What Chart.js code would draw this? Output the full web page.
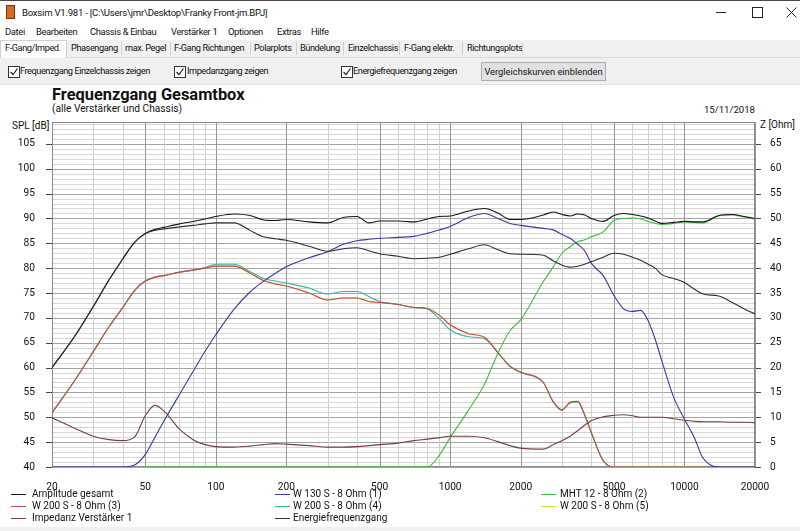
<!DOCTYPE html>
<html lang="de">
<head>
<meta charset="UTF-8">
<title>Boxsim - Frequenzgang Gesamtbox</title>
<script src="https://cdn.jsdelivr.net/npm/chart.js"></script>
<style>
    body {
        margin: 0;
        width: 800px;
        height: 531px;
        overflow: hidden;
        background: #fff;
        font-family: Roboto, "Noto Sans", sans-serif;
        color: #111;
        position: relative;
    }
    .abs { position: absolute; white-space: nowrap; }
    .titel { font-size: 9.6px; letter-spacing: -0.25px; line-height: 14px; }
    .menu { font-size: 9.4px; letter-spacing: -0.35px; line-height: 14px; top: 25px; }
    .tab { font-size: 9.2px; letter-spacing: -0.42px; line-height: 14px; top: 41px; }
    .cbl { font-size: 9.2px; letter-spacing: -0.45px; line-height: 14px; top: 64px; }
    #topline { left: 0; top: 0; width: 800px; height: 1px; background: #4a4a4a; }
    #icon { left: 6px; top: 5px; width: 9px; height: 14px; background: #d86a1c; border: 1px solid #6a3a10; box-sizing: border-box; }
    #tabs { left: 0; top: 40px; width: 800px; height: 17px; background: #f0f0f0; border-bottom: 1px solid #dadada; }
    .sep { top: 42px; width: 1px; height: 13px; background: #d0d0d0; }
    #activetab { left: 0; top: 40px; width: 67px; height: 18px; background: #fff; border: 1px solid #d0d0d0; border-bottom: none; box-sizing: border-box; }
    #panel { left: 0; top: 58px; width: 800px; height: 26px; background: #f0f0f0; border-bottom: 1px solid #e2e2e2; }
    .cb { top: 66px; width: 10px; height: 10px; border: 1px solid #333; background: #fff; line-height: 0; }
    #btn { left: 481px; top: 62px; width: 125px; height: 19px; background: #e1e1e1; border: 1px solid #adadad; box-sizing: border-box;
           font-size: 9.3px; line-height: 17px; text-align: center; }
    #bottomstrip { left: 0; top: 527px; width: 800px; height: 4px; background: #f0f0f0; }
    #chartbox { left: 0; top: 100px; width: 800px; height: 395px; }
    .leg { font-size: 10px; line-height: 12px; }
    .sw { width: 15px; height: 0; border-top: 1.5px solid; }
</style>
</head>
<body>
    <!-- Fensterrahmen -->
    <div class="abs" id="topline"></div>
    <div class="abs" id="icon"></div>
    <div class="abs titel" style="left:22px; top:6px;">Boxsim V1.981 - [C:\Users\jmr\Desktop\Franky Front-jm.BPJ]</div>
    <div class="abs" style="left:716px; top:12px; width:10px; height:1px; background:#222;"></div>
    <div class="abs" style="left:752px; top:7px; width:9px; height:9px; border:1px solid #222;"></div>
    <svg class="abs" style="left:786px; top:7px;" width="11" height="11"><path d="M0.5 0.5 L10.5 10.5 M10.5 0.5 L0.5 10.5" stroke="#222" stroke-width="1"/></svg>

    <!-- Menü -->
    <div class="abs menu" style="left:5px;">Datei</div>
    <div class="abs menu" style="left:36px;">Bearbeiten</div>
    <div class="abs menu" style="left:90px;">Chassis &amp; Einbau</div>
    <div class="abs menu" style="left:171px;">Verstärker 1</div>
    <div class="abs menu" style="left:228px;">Optionen</div>
    <div class="abs menu" style="left:277px;">Extras</div>
    <div class="abs menu" style="left:311px;">Hilfe</div>

    <!-- Reiter -->
    <div class="abs" id="tabs"></div>
    <div class="abs" id="activetab"></div>
    <div class="abs tab" style="left:5px;">F-Gang/Imped.</div>
    <div class="abs tab" style="left:71px;">Phasengang</div>
    <div class="abs sep" style="left:121px;"></div>
    <div class="abs tab" style="left:125px;">max. Pegel</div>
    <div class="abs sep" style="left:170px;"></div>
    <div class="abs tab" style="left:174px;">F-Gang Richtungen</div>
    <div class="abs sep" style="left:250px;"></div>
    <div class="abs tab" style="left:254px;">Polarplots</div>
    <div class="abs sep" style="left:296px;"></div>
    <div class="abs tab" style="left:300px;">Bündelung</div>
    <div class="abs sep" style="left:343px;"></div>
    <div class="abs tab" style="left:348px;">Einzelchassis</div>
    <div class="abs sep" style="left:399px;"></div>
    <div class="abs tab" style="left:404px;">F-Gang elektr.</div>
    <div class="abs sep" style="left:462px;"></div>
    <div class="abs tab" style="left:467px;">Richtungsplots</div>
    <div class="abs sep" style="left:522px;"></div>

    <!-- Optionen -->
    <div class="abs" id="panel"></div>
    <div class="abs cb" style="left:8px;"><svg width="10" height="10"><path d="M1.5 5 L4 7.5 L8.5 1.5" fill="none" stroke="#222" stroke-width="1.2"/></svg></div>
    <div class="abs cbl" style="left:20px;">Frequenzgang Einzelchassis zeigen</div>
    <div class="abs cb" style="left:174px;"><svg width="10" height="10"><path d="M1.5 5 L4 7.5 L8.5 1.5" fill="none" stroke="#222" stroke-width="1.2"/></svg></div>
    <div class="abs cbl" style="left:187px;">Impedanzgang zeigen</div>
    <div class="abs cb" style="left:341px;"><svg width="10" height="10"><path d="M1.5 5 L4 7.5 L8.5 1.5" fill="none" stroke="#222" stroke-width="1.2"/></svg></div>
    <div class="abs cbl" style="left:353px;">Energiefrequenzgang zeigen</div>
    <div class="abs" id="btn">Vergleichskurven einblenden</div>

    <!-- Diagrammtexte -->
    <div class="abs" style="left:52px; top:85px; font-size:16.4px; font-weight:bold;">Frequenzgang Gesamtbox</div>
    <div class="abs" style="left:52px; top:103px; font-size:10.2px;">(alle Verstärker und Chassis)</div>
    <div class="abs" style="right:45px; top:104px; font-size:9.6px;">15/11/2018</div>
    <div class="abs" style="left:12px; top:120px; font-size:10px;">SPL [dB]</div>
    <div class="abs" style="left:760px; top:119px; font-size:10px;">Z [Ohm]</div>

    <div class="abs" id="chartbox"><canvas id="fgChart" width="800" height="395"></canvas></div>

    <!-- Legende -->
    <div class="abs sw" style="left:11px; top:494px; border-color:#1a1a1a;"></div>
    <div class="abs leg" style="left:32px; top:488px;">Amplitude gesamt</div>
    <div class="abs sw" style="left:11px; top:506px; border-color:#c84848;"></div>
    <div class="abs leg" style="left:32px; top:500px;">W 200 S - 8 Ohm (3)</div>
    <div class="abs sw" style="left:11px; top:518px; border-color:#7a3e3e;"></div>
    <div class="abs leg" style="left:32px; top:512px;">Impedanz Verstärker 1</div>
    <div class="abs sw" style="left:275px; top:494px; border-color:#3838a8;"></div>
    <div class="abs leg" style="left:293px; top:488px;">W 130 S - 8 Ohm (1)</div>
    <div class="abs sw" style="left:275px; top:506px; border-color:#30b8a8;"></div>
    <div class="abs leg" style="left:293px; top:500px;">W 200 S - 8 Ohm (4)</div>
    <div class="abs sw" style="left:275px; top:518px; border-color:#333;"></div>
    <div class="abs leg" style="left:293px; top:512px;">Energiefrequenzgang</div>
    <div class="abs sw" style="left:541px; top:494px; border-color:#3cbf3c;"></div>
    <div class="abs leg" style="left:560px; top:488px;">MHT 12 - 8 Ohm (2)</div>
    <div class="abs sw" style="left:541px; top:506px; border-color:#d8d840;"></div>
    <div class="abs leg" style="left:560px; top:500px;">W 200 S - 8 Ohm (5)</div>

    <div class="abs" id="bottomstrip"></div>

    <script>
        // Frequenzen (Hz)
        const freqs = [20, 25, 30, 35, 40, 45, 50, 55, 60, 70, 80, 90, 100, 120, 140, 160, 180, 200,
            250, 300, 350, 400, 450, 500, 600, 700, 800, 900, 1000, 1200, 1400, 1600, 1800, 2000,
            2500, 2750, 3000, 3250, 3500, 3750, 4000, 4500, 5000, 5500, 6000, 6500, 7000, 7500, 8000,
            9000, 10000, 11000, 12000, 14000, 16000, 18000, 20000];

        // SPL in dB
        const ampGesamt = [60, 66.3, 72.3, 77.6, 81.8, 85.2, 87.0, 87.8, 88.2, 88.9, 89.4, 89.9, 90.4, 90.9, 90.6, 89.7, 89.6, 89.8,
            89.3, 89.1, 90.2, 90.4, 89.1, 89.5, 89.5, 89.3, 89.9, 90.4, 90.5, 91.5, 92.0, 91.1, 89.8, 89.8,
            90.7, 91.3, 90.8, 90.5, 90.9, 90.7, 90.0, 89.4, 90.6, 91.0, 90.8, 90.5, 90.1, 89.5, 89.0,
            89.2, 89.4, 89.3, 89.3, 90.6, 90.8, 90.4, 90.0];
        const energie = [60, 66.3, 72.3, 77.6, 81.8, 85.2, 86.9, 87.6, 87.9, 88.3, 88.6, 88.9, 89.1, 89.1, 87.6, 86.3, 85.9, 85.6,
            84.4, 83.4, 83.9, 84.1, 83.5, 82.9, 82.4, 81.9, 82.0, 82.2, 82.8, 83.9, 84.7, 83.7, 82.9, 82.8,
            82.6, 81.5, 80.6, 80.2, 80.4, 80.8, 81.3, 82.2, 83.0, 82.8, 82.2, 81.6, 80.8, 80.0, 78.7,
            77.9, 77.1, 75.8, 74.8, 74.4, 73.1, 71.8, 70.8];
        const w130 = [40, 40, 40, 40, 40, 40.4, 42.5, 46.0, 49.2, 54.6, 59.2, 63.3, 66.6, 71.8, 75.2, 77.4, 79.0, 80.3,
            82.1, 83.3, 84.8, 85.5, 85.8, 86.0, 86.2, 86.4, 87.0, 87.7, 88.4, 90.2, 91.0, 90.0, 89.0, 88.6,
            88.0, 87.7, 86.8, 86.0, 84.8, 83.5, 81.0, 78.5, 74.5, 71.8, 71.3, 71.5, 69.4, 65.7, 61.4,
            54.0, 49.6, 46.0, 41.8, 40, 40, 40, 40];
        const mht12 = [null, null, null, null, null, null, 40, 40, 40, 40, 40, 40, 40, 40, 40, 40, 40, 40,
            40, 40, 40, 40, 40, 40, 40, 40, 40, 42.4, 45.9, 51.5, 56.6, 62.9, 67.4, 69.6,
            77.3, 80.2, 83.0, 84.3, 85.3, 85.7, 86.3, 87.3, 89.6, 90.0, 90.1, 89.9, 89.4, 89.0, 88.8,
            89.0, 89.3, 89.2, 89.1, 90.5, 90.7, 90.3, 89.9];
        const w200a = [50.9, 57.4, 63.2, 68.2, 72.0, 75.5, 77.4, 78.2, 78.5, 79.2, 79.6, 80.0, 80.4, 80.4, 79.0, 77.5, 76.8, 76.4,
            75.0, 73.6, 74.0, 74.0, 73.3, 73.1, 72.7, 72.1, 71.9, 70.5, 68.6, 66.8, 66.1, 63.0, 60.3, 59.1,
            57.0, 53.2, 51.5, 53.0, 53.2, 50.5, 47.0, 41.3, 40, 40, 40, 40, 40, 40, 40,
            40, 40, 40, 40, 40, 40, 40, 40];
        const w200b = [50.9, 57.4, 63.2, 68.2, 72.0, 75.5, 77.4, 78.2, 78.5, 79.2, 79.6, 80.1, 80.8, 80.8, 79.3, 77.9, 77.4, 77.0,
            76.0, 74.8, 75.3, 75.3, 74.3, 73.3, 72.7, 72.1, 71.8, 69.8, 67.6, 66.2, 65.8, 63.0, 60.2, 59.0,
            56.9, 53.1, 51.4, 52.9, 53.1, 50.4, 46.9, 41.2, 40, 40, 40, 40, 40, 40, 40,
            40, 40, 40, 40, 40, 40, 40, 40];
        const w200c = [50.9, 57.4, 63.2, 68.2, 72.0, 75.5, 77.4, 78.2, 78.5, 79.2, 79.6, 80.0, 80.4, 80.4, 79.0, 77.5, 76.8, 76.4,
            75.0, 73.6, 74.0, 74.0, 73.3, 73.1, 72.7, 72.1, 71.9, 70.5, 68.6, 66.8, 66.1, 63.0, 60.3, 59.1,
            57.0, 53.2, 51.5, 53.0, 53.2, 50.5, 47.0, 41.3, 40, 40, 40, 40, 40, 40, 40,
            40, 40, 40, 40, 40, 40, 40, 40];

        // Impedanz in Ohm (rechte Achse)
        const impedanz = [9.9, 7.8, 6.2, 5.5, 5.3, 6.0, 10.3, 12.4, 11.3, 7.6, 5.5, 4.5, 4.1, 4.0, 4.2, 4.5, 4.7, 4.6,
            4.3, 4.0, 4.0, 4.1, 4.3, 4.5, 4.8, 5.3, 5.6, 5.9, 6.2, 6.2, 5.9, 5.1, 4.3, 3.8,
            3.6, 4.5, 5.3, 6.2, 7.3, 8.4, 9.3, 10.1, 10.4, 10.5, 10.3, 10.0, 10.0, 10.0, 10.0,
            9.7, 9.4, 9.2, 9.1, 9.1, 9.0, 9.0, 8.9];

        // Gitter und Beschriftungen
        const xGrid = [20, 30, 40, 50, 60, 70, 80, 90, 100, 200, 300, 400, 500, 600, 700, 800, 900,
            1000, 2000, 3000, 4000, 5000, 6000, 7000, 8000, 9000, 10000, 20000];
        const xLabels = [20, 50, 100, 200, 500, 1000, 2000, 5000, 10000, 20000];
        const splGrid = [];
        for (let v = 40; v <= 109; v++) splGrid.push(v);
        const zGrid = [];
        for (let v = 0; v <= 69; v++) zGrid.push(v);

        function serie(label, werte, farbe, order, achse) {
            return {
                label: label,
                data: freqs.map((f, i) => ({ x: f, y: werte[i] })),
                borderColor: farbe,
                borderWidth: 1.1,
                pointRadius: 0,
                fill: false,
                cubicInterpolationMode: 'monotone',
                yAxisID: achse || 'y',
                order: order
            };
        }

        // Gitter, Teilstriche und Rahmen als 1-px-Rechtecke
        const gitter = {
            id: 'gitter',
            beforeDatasetsDraw(chart) {
                const a = chart.chartArea;
                const ctx = chart.ctx;
                const sx = chart.scales.x, sy = chart.scales.y, sz = chart.scales.z;
                const l = Math.round(a.left), r = Math.round(a.right);
                const t = Math.round(a.top), b = Math.round(a.bottom);
                ctx.save();
                splGrid.forEach(v => {
                    const py = Math.round(sy.getPixelForValue(v));
                    ctx.fillStyle = v % 5 === 0 ? '#a4a4a4' : '#d6d6d6';
                    ctx.fillRect(l, py, r - l, 1);
                    if (v % 5 === 0 && v <= 105) {
                        ctx.fillStyle = '#444';
                        ctx.fillRect(l - 6, py, 6, 1);
                    }
                });
                zGrid.forEach(v => {
                    if (v % 5 !== 0 || v > 65) return;
                    const py = Math.round(sz.getPixelForValue(v));
                    ctx.fillStyle = '#444';
                    ctx.fillRect(r, py, 6, 1);
                });
                xGrid.forEach(v => {
                    const px = Math.round(sx.getPixelForValue(v));
                    ctx.fillStyle = xLabels.includes(v) ? '#969696' : '#d0d0d0';
                    ctx.fillRect(px, t, 1, b - t);
                });
                ctx.fillStyle = '#8a8a8a';
                ctx.fillRect(l, t, r - l, 1);
                ctx.fillRect(l, b - 1, r - l, 1);
                ctx.fillRect(l, t, 1, b - t);
                ctx.fillRect(r - 1, t, 1, b - t);
                ctx.restore();
                // kurzes Auslesen hält die Zeichenfläche im Software-Modus
                ctx.getImageData(0, 0, 1, 1);
            }
        };

        const tickFont = { family: 'Roboto, "Noto Sans", sans-serif', size: 10.2 };

        const canvas = document.getElementById('fgChart');
        canvas.getContext('2d', { willReadFrequently: true });

        new Chart(canvas, {
            type: 'line',
            data: {
                datasets: [
                    serie('Energiefrequenzgang', energie, '#2e2e2e', 1),
                    serie('Amplitude gesamt', ampGesamt, '#141414', 2),
                    serie('Impedanz Verstärker 1', impedanz, '#7a3e3e', 3, 'z'),
                    serie('W 130 S - 8 Ohm (1)', w130, '#3838a8', 4),
                    serie('MHT 12 - 8 Ohm (2)', mht12, '#3cbf3c', 5),
                    serie('W 200 S - 8 Ohm (3)', w200a, '#c84848', 6),
                    serie('W 200 S - 8 Ohm (4)', w200b, '#30b8a8', 7),
                    serie('W 200 S - 8 Ohm (5)', w200c, '#d8d840', 8)
                ]
            },
            options: {
                responsive: false,
                animation: false,
                devicePixelRatio: 1,
                layout: { padding: { top: 22, left: 0, right: 0, bottom: 0 } },
                plugins: { legend: { display: false }, tooltip: { enabled: false } },
                scales: {
                    x: {
                        type: 'logarithmic',
                        min: 20,
                        max: 20000,
                        afterBuildTicks: s => { s.ticks = xGrid.map(v => ({ value: v })); },
                        afterFit: s => { s.height = 28; },
                        border: { display: false },
                        grid: { display: false },
                        ticks: {
                            autoSkip: false,
                            maxRotation: 0,
                            padding: 6,
                            color: '#111',
                            font: tickFont,
                            callback: v => xLabels.includes(v) ? String(v) : ''
                        }
                    },
                    y: {
                        position: 'left',
                        min: 40,
                        max: 109.4,
                        afterBuildTicks: s => { s.ticks = splGrid.map(v => ({ value: v })); },
                        afterFit: s => { s.width = 52; },
                        border: { display: false },
                        grid: { display: false },
                        ticks: {
                            autoSkip: false,
                            padding: 9,
                            color: '#111',
                            font: tickFont,
                            callback: v => (v % 5 === 0 && v <= 105) ? String(v) : ''
                        }
                    },
                    z: {
                        position: 'right',
                        min: 0,
                        max: 69.4,
                        afterBuildTicks: s => { s.ticks = zGrid.map(v => ({ value: v })); },
                        afterFit: s => { s.width = 45; },
                        border: { display: false },
                        grid: { display: false },
                        ticks: {
                            autoSkip: false,
                            padding: 7,
                            color: '#111',
                            font: tickFont,
                            callback: v => (v % 5 === 0 && v <= 65) ? String(v) : ''
                        }
                    }
                }
            },
            plugins: [gitter]
        });
    </script>
</body>
</html>
